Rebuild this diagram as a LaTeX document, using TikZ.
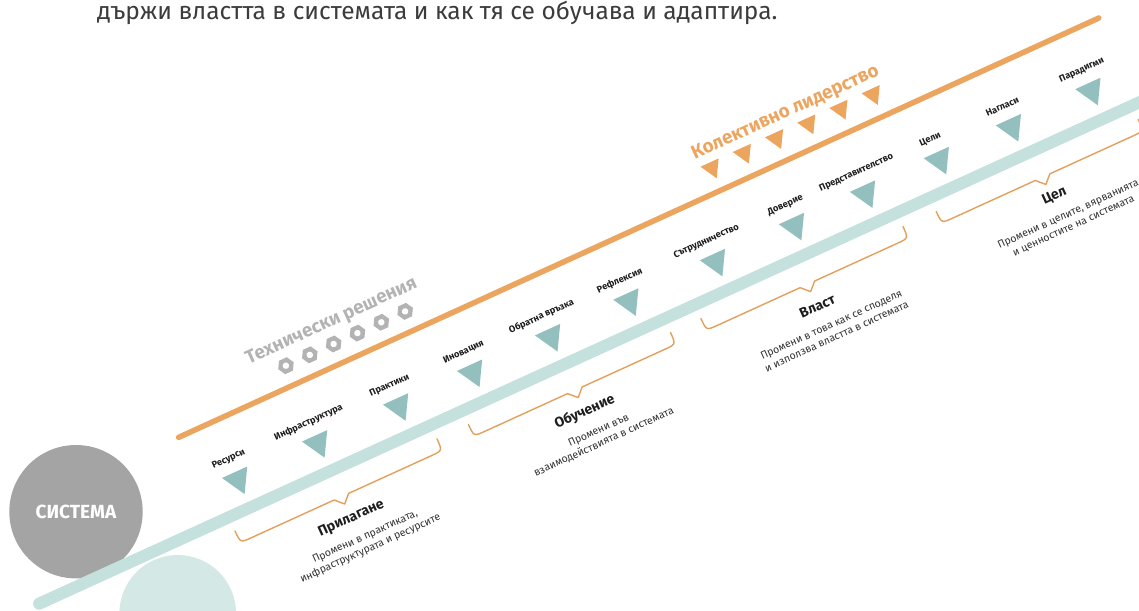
\documentclass[tikz,border=0pt]{standalone}
\usepackage{fontspec}
\setmainfont{Fira Sans}
\usetikzlibrary{shapes.geometric}
\definecolor{orng}{HTML}{ECA55F}
\definecolor{tealband}{HTML}{C5E1DD}
\definecolor{tealtri}{HTML}{93C0BF}
\definecolor{techgray}{HTML}{B3B3B3}
\definecolor{sysgray}{HTML}{A4A4A4}
\definecolor{lightcirc}{HTML}{D4E8E6}
\definecolor{bracecol}{HTML}{E2A05C}
\definecolor{txt}{HTML}{1E1E1E}
\definecolor{subtxt}{HTML}{333333}
\definecolor{toptxt}{HTML}{3C3C3C}
\begin{document}
\begin{tikzpicture}[x=1pt,y=-1pt,
  tealtriangle/.style={regular polygon, regular polygon sides=3, shape border rotate=180, fill=tealtri, inner sep=0pt, minimum size=32pt},
  orngtriangle/.style={regular polygon, regular polygon sides=3, shape border rotate=180, fill=orng, inner sep=0pt, minimum size=23pt},
  nut/.style={regular polygon, regular polygon sides=6, fill=techgray, inner sep=0pt, minimum size=17pt},
  nuthole/.style={circle, fill=white, inner sep=0pt, minimum size=6.5pt},
  steplabel/.style={font=\bfseries\fontsize{9.3}{11}\selectfont, text=txt, inner sep=0pt},
  bracetitle/.style={font=\bfseries\fontsize{14}{16}\selectfont, text=txt, inner sep=0pt},
  bracetext/.style={font=\fontsize{10.5}{12.8}\selectfont, text=subtxt, align=center, inner sep=0pt},
  bracepath/.style={draw=bracecol, line width=1.4pt, line join=round, line cap=round},
  bigtitle/.style={font=\bfseries\fontsize{18.8}{21}\selectfont, inner sep=0pt}
]
\useasboundingbox (0,0) rectangle (1139,610);
\fill[white] (0,0) rectangle (1139,610);
\clip (0,0) rectangle (1139,610);

\node[anchor=base west, font=\fontsize{24.5}{28}\selectfont, text=toptxt, inner sep=0pt] (intro) at (97,20) {държи властта в системата и как тя се обучава и адаптира.};

\node[circle, fill=lightcirc, minimum size=116.6pt, inner sep=0pt] (lc) at (177.7,613.3) {};
\node[circle, fill=sysgray, minimum size=133.4pt, inner sep=0pt, text=white, font=\bfseries\fontsize{19}{22}\selectfont] (sys) at (76,511.7) {СИСТЕМА};

\begin{scope}[shift={(0,621.5)}, rotate=24.5, transform shape]
  \coordinate (tealstart) at (43,0);
  \coordinate (tealend) at (1400,0);
  \draw[tealband, line width=12pt, line cap=round] (tealstart) -- (tealend);
  \coordinate (orstart) at (239,-93.5);
  \coordinate (orend) at (1250.3,-93.5);
  \draw[orng, line width=5.5pt, line cap=round] (orstart) -- (orend);

  \foreach \s/\lab [count=\i] in {275.4/Ресурси, 363.3/Инфраструктура, 452.3/Практики, 533.6/Иновация, 619.3/Обратна връзка, 705.3/Рефлексия, 800.5/Сътрудничество, 887.3/Доверие, 965.4/Представителство, 1046.5/Цели, 1125.7/Нагласи, 1213.1/Парадигми} {
    \node[tealtriangle] (tri\i) at (\s,-30.5) {};
    \node[steplabel] (lab\i) at (\s,-53) {\lab};
  }

  \foreach \k in {0,...,5} {
    \node[orngtriangle] (otri\k) at ({836+35.4*\k},-117.6) {};
  }
  \node[bigtitle, text=orng] (kol) at (925.8,-136.8) {Колективно лидерство};

  \foreach \k in {0,...,5} {
    \node[nut] (nut\k) at ({366.3+26.2*\k},-114.2) {};
    \node[nuthole] (hole\k) at (nut\k.center) {};
  }
  \node[bigtitle, text=techgray] (tech) at (426.2,-135.3) {Технически решения};

  \foreach \c in {362.4, 619, 874.5, 1133} {
    \draw[bracepath] (\c-111,15) .. controls (\c-111,28) .. (\c-99,28) -- (\c-8,28) -- (\c,36) -- (\c+8,28) -- (\c+99,28) .. controls (\c+111,28) .. (\c+111,15);
  }

  \node[bracetitle] (t1) at (362.4,52) {Прилагане};
  \node[bracetext] (d1) at (367.4,81) {Промени в практиката,\\инфраструктурата и ресурсите};
  \node[bracetitle] (t2) at (619,52) {Обучение};
  \node[bracetext] (d2) at (624,81) {Промени във\\взаимодействията в системата};
  \node[bracetitle] (t3) at (874.5,52) {Власт};
  \node[bracetext] (d3) at (879.5,81) {Промени в това как се споделя\\и използва властта в системата};
  \node[bracetitle] (t4) at (1136,50) {Цел};
  \node[bracetext] (d4) at (1141,79) {Промени в целите, вярванията\\и ценностите на системата};
\end{scope}
\end{tikzpicture}
\end{document}
